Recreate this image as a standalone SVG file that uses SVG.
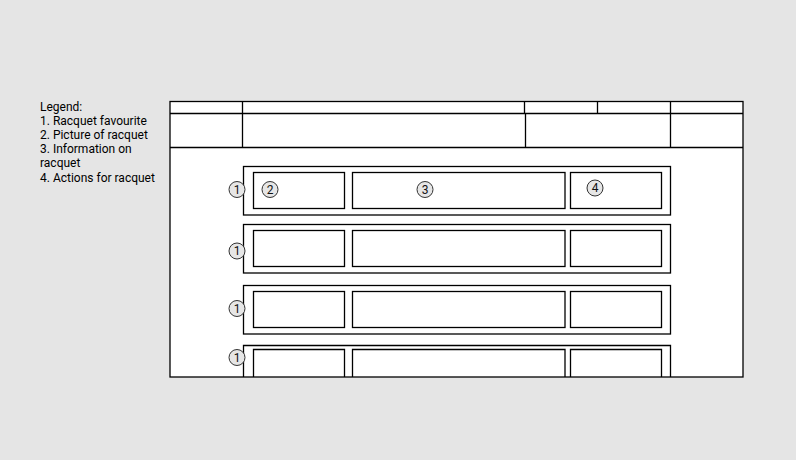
<svg xmlns="http://www.w3.org/2000/svg" width="796" height="460" viewBox="0 0 796 460">
<style>
.ln{fill:none;stroke:#000;stroke-width:1.3}
.bx{fill:#fff;stroke:#000;stroke-width:1.3}
.cc{fill:#e6e6e6;stroke:#333;stroke-width:1}
.ct{font-family:Roboto,"Liberation Sans",sans-serif;font-size:12px;fill:#111;text-anchor:middle}
.lg{font-family:Roboto,"Liberation Sans",sans-serif;font-size:12px;fill:#000}
</style>
<rect width="796" height="460" fill="#e5e5e5"/>
<g id="legend">
<text class="lg" x="40" y="111">Legend:</text>
<text class="lg" x="40" y="125">1. Racquet favourite</text>
<text class="lg" x="40" y="139">2. Picture of racquet</text>
<text class="lg" x="40" y="153">3. Information on</text>
<text class="lg" x="40" y="167">racquet</text>
<text class="lg" x="40" y="182">4. Actions for racquet</text>
</g>
<g id="frame">
<rect class="bx" x="170" y="101.5" width="573" height="275.5"/>
<path class="ln" d="M170 113.5H743M170 147.5H743M242.5 101.5V147.5M524.5 101.5V113.5M597.5 101.5V113.5M670.5 101.5V147.5M525.5 113.5V147.5"/>
</g>
<g id="row1">
<rect class="bx" x="243.5" y="166.5" width="427" height="48.5"/>
<rect class="bx" x="253.5" y="172.5" width="91" height="36"/>
<rect class="bx" x="352.5" y="172.5" width="212.5" height="36"/>
<rect class="bx" x="570.5" y="172.5" width="91" height="36"/>
<circle class="cc" cx="237" cy="189.5" r="8"/><text class="ct" x="237" y="193.8">1</text>
<circle class="cc" cx="270" cy="189.5" r="8"/><text class="ct" x="270" y="193.8">2</text>
<circle class="cc" cx="425" cy="189.5" r="8"/><text class="ct" x="425" y="193.8">3</text>
<circle class="cc" cx="595" cy="188" r="8"/><text class="ct" x="595" y="192.3">4</text>
</g>
<g id="row2">
<rect class="bx" x="243.5" y="224.5" width="427" height="48.5"/>
<rect class="bx" x="253.5" y="230.5" width="91" height="36"/>
<rect class="bx" x="352.5" y="230.5" width="212.5" height="36"/>
<rect class="bx" x="570.5" y="230.5" width="91" height="36"/>
<circle class="cc" cx="237" cy="251" r="8"/><text class="ct" x="237" y="255.3">1</text>
</g>
<g id="row3">
<rect class="bx" x="243.5" y="285.5" width="427" height="48.5"/>
<rect class="bx" x="253.5" y="291.5" width="91" height="36"/>
<rect class="bx" x="352.5" y="291.5" width="212.5" height="36"/>
<rect class="bx" x="570.5" y="291.5" width="91" height="36"/>
<circle class="cc" cx="237" cy="308.5" r="8"/><text class="ct" x="237" y="312.8">1</text>
</g>
<g id="row4">
<path class="ln" d="M243.5 377V345.5H670.5V377M253.5 377V349.5H344.5V377M352.5 377V349.5H565V377M570.5 377V349.5H661.5V377"/>
<circle class="cc" cx="237" cy="357.5" r="8"/><text class="ct" x="237" y="361.8">1</text>
</g>
<g id="connectors"></g>
</svg>
